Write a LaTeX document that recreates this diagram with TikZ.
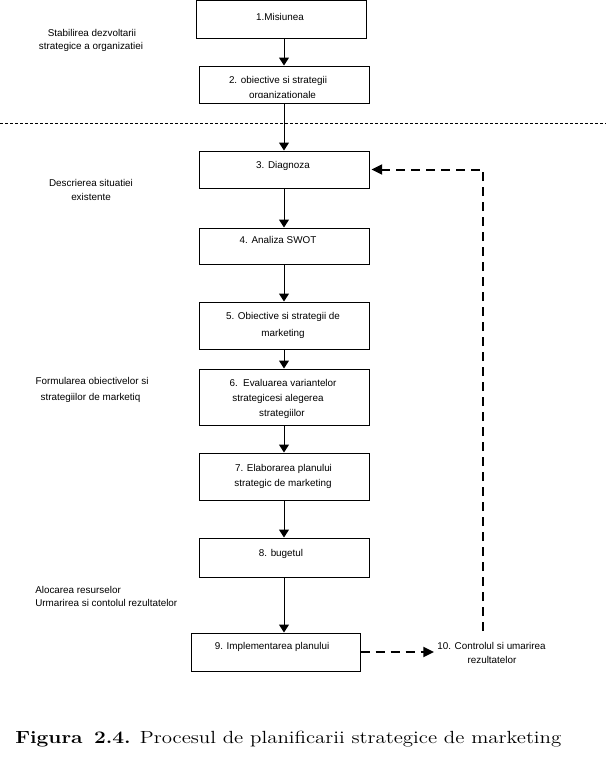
\documentclass[tikz,border=0pt]{standalone}
\usepackage{fontspec}
\usepackage{graphicx}
\newfontfamily\arialf{Liberation Sans}
\usetikzlibrary{arrows.meta}
\begin{document}
\begin{tikzpicture}[x=0.75pt,y=-0.75pt,
  box/.style={draw, line width=0.75pt, inner sep=0pt},
  lbl/.style={anchor=base, inner sep=0pt, font=\arialf\fontsize{7.4}{9}\selectfont},
  lblw/.style={lbl, anchor=base west},
  arr/.style={line width=0.75pt, -{Triangle[width=7.5pt,length=6pt]}},
  dasharr/.style={line width=1.5pt, dash pattern=on 6.75pt off 4.5pt, -{Triangle[width=7.5pt,length=8pt]}, shorten >=1.5pt},
  sepline/.style={line width=0.75pt, dash pattern=on 2.25pt off 1.5pt}]
\useasboundingbox (0,0) rectangle (606,775);

% boxes
\node[box, minimum width=127.5pt, minimum height=28.5pt] (b1) at (281,19.5) {};
\node[box, minimum width=127.5pt, minimum height=27.75pt] (b2) at (284,84.5) {};
\node[box, minimum width=127.5pt, minimum height=27.75pt] (b3) at (284,169.5) {};
\node[box, minimum width=127.5pt, minimum height=27pt] (b4) at (284,246) {};
\node[box, minimum width=127.5pt, minimum height=35.25pt] (b5) at (284,325.5) {};
\node[box, minimum width=127.5pt, minimum height=42pt] (b6) at (284,397) {};
\node[box, minimum width=127.5pt, minimum height=35.25pt] (b7) at (284,476.5) {};
\node[box, minimum width=127.5pt, minimum height=29.25pt] (b8) at (284,557.5) {};
\node[box, minimum width=126.75pt, minimum height=28.5pt] (b9) at (275.5,652) {};

% box texts
\node[lbl] (t1) at (280,20.5) {1.Misiunea};
\node[lbl] (t2a) at (278,83.5) {2. obiective si strategii};
\begin{scope}
  \clip (199,66) rectangle (369,97);
  \node[lbl] (t2b) at (282.5,98.5) {organizationale};
\end{scope}
\node[lbl] (t3) at (283,168.5) {3. Diagnoza};
\node[lbl] (t4) at (278,243.5) {4. Analiza SWOT};
\node[lbl] (t5a) at (283,319.5) {5. Obiective si strategii de};
\node[lbl] (t5b) at (283,336) {marketing};
\node[lbl] (t6a) at (283,386.5) {6.\ \ Evaluarea variantelor};
\node[lbl] (t6b) at (278,401.5) {strategicesi alegerea};
\node[lbl] (t6c) at (282,416.5) {strategiilor};
\node[lbl] (t7a) at (283.5,471.5) {7. Elaborarea planului};
\node[lbl] (t7b) at (283,486.5) {strategic de marketing};
\node[lbl] (t8) at (281,556.5) {8. bugetul};
\node[lbl] (t9) at (272,649.5) {9. Implementarea planului};
\node[lbl] (t10a) at (491.5,649.5) {10. Controlul si umarirea};
\node[lbl] (t10b) at (492,663) {rezultatelor};

% side labels
\node[lbl] (s1a) at (92,36.5) {Stabilirea dezvoltarii};
\node[lbl] (s1b) at (91,49.5) {strategice a organizatiei};
\node[lbl] (s2a) at (91,186.5) {Descrierea situatiei};
\node[lbl] (s2b) at (91,200.5) {existente};
\node[lbl] (s3a) at (92,384.5) {Formularea obiectivelor si};
\node[lbl] (s3b) at (90.5,400.5) {strategiilor de marketiq};
\node[lblw] (s4a) at (35,593.5) {Alocarea resurselor};
\node[lblw] (s4b) at (35,606.5) {Urmarirea si contolul rezultatelor};

% separator
\draw[sepline] (0,123) -- (606,123);

% solid arrows
\draw[arr] (b2.north |- b1.south) -- (b2.north);
\draw[arr] (b2.south) -- (b3.north);
\draw[arr] (b3.south) -- (b4.north);
\draw[arr] (b4.south) -- (b5.north);
\draw[arr] (b5.south) -- (b6.north);
\draw[arr] (b6.south) -- (b7.north);
\draw[arr] (b7.south) -- (b8.north);
\draw[arr] (b8.south) -- (b8.south |- b9.north);

% dashed arrows
\coordinate (fb) at (483,631);
\draw[dasharr] (fb) |- (b3.east);
\draw[dasharr, shorten >=0pt] (b9.east) -- ([xshift=-2.25pt]t10a.west |- b9.east);

% caption
\node[anchor=base west, inner sep=0pt] (cap) at (15,743)
  {\fontsize{13.2}{15}\selectfont\resizebox{409.5pt}{\height}{\textbf{Figura}\hspace{0.55em}\textbf{2.4.} Procesul de planificarii strategice de marketing}};
\end{tikzpicture}
\end{document}
